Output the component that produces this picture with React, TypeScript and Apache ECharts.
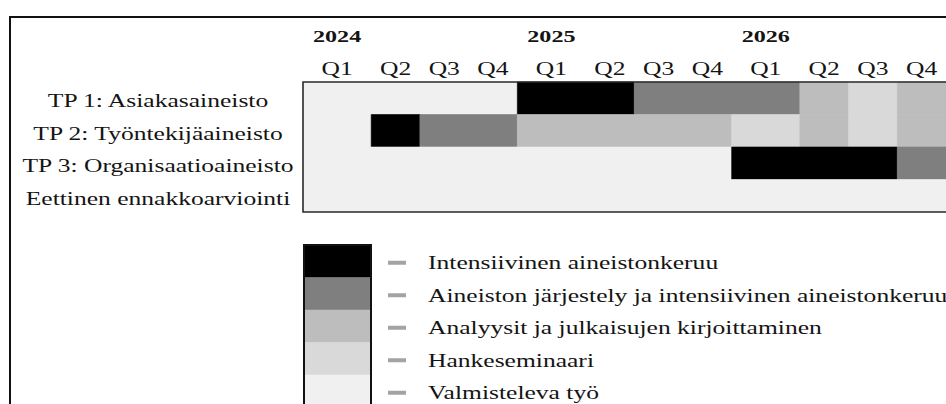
import React, { useEffect, useRef } from "react";
import * as echarts from "echarts";

// ---- data ----
const years = ["2024", "2025", "2026"];
const quarterNames = ["Q1", "Q2", "Q3", "Q4"];
const workPackages = [
  "TP 1: Asiakasaineisto",
  "TP 2: Työntekijäaineisto",
  "TP 3: Organisaatioaineisto",
  "Eettinen ennakkoarviointi",
];
const phases = [
  "Intensiivinen aineistonkeruu",
  "Aineiston järjestely ja intensiivinen aineistonkeruu",
  "Analyysit ja julkaisujen kirjoittaminen",
  "Hankeseminaari",
  "Valmisteleva työ",
];
// [first quarter index, last quarter index (inclusive), phase index]; quarter 0 = 2024 Q1
const tp1Plan = [[0, 3, 4], [4, 5, 0], [6, 8, 1], [9, 9, 2], [10, 10, 3], [11, 11, 2]];
const tp2Plan = [[0, 0, 4], [1, 1, 0], [2, 3, 1], [4, 7, 2], [8, 8, 3], [9, 9, 2], [10, 10, 3], [11, 11, 2]];
const tp3Plan = [[0, 7, 4], [8, 10, 0], [11, 11, 1]];
const ethicsPlan = [[0, 11, 4]];
const plans = [tp1Plan, tp2Plan, tp3Plan, ethicsPlan];

// ---- styles / layout ----
const phaseColors = ["#000000", "#7f7f7f", "#bdbdbd", "#d9d9d9", "#f0f0f0"];
const Q1_WEIGHT = 1.4; // first-quarter columns are drawn wider
const FONT = "'Liberation Serif', 'Times New Roman', serif";
const SX = 1.42;
const TEXT = "#141414";
const GRID_LEFT = 303;
const GRID_TOP = 82;
const GRID_W = 645;
const GRID_H = 130;

function quarterStart(q: number) {
  let s = 0;
  for (let i = 0; i < q; i++) s += i % 4 === 0 ? Q1_WEIGHT : 1;
  return s;
}
const totalUnits = quarterStart(years.length * quarterNames.length);

function txt(x: number, y: number, text: string, opts: any = {}) {
  const align = opts.align || "center";
  return {
    type: "text",
    x,
    y,
    scaleX: SX,
    z: 10,
    style: {
      text,
      x: 0,
      y: 0,
      fill: TEXT,
      font: opts.font || `18px ${FONT}`,
      align,
      textAlign: align,
      verticalAlign: "middle",
      textVerticalAlign: "middle",
    },
  };
}

export default function App() {
  const ref = useRef<HTMLDivElement>(null);
  useEffect(() => {
    const chart = echarts.init(ref.current!, null, { renderer: "svg" });

    const segData: any[] = [];
    plans.forEach((plan, row) =>
      plan.forEach(([a, b, p]) =>
        segData.push({ value: [quarterStart(a), quarterStart(b + 1), row, p] })
      )
    );
    const quarterData: any[] = [];
    years.forEach((_, yi) =>
      quarterNames.forEach((qn, qi) => {
        const i = yi * 4 + qi;
        quarterData.push({ value: [(quarterStart(i) + quarterStart(i + 1)) / 2, 0], name: qn });
      })
    );
    const yearData = years.map((y, yi) => ({
      value: [(quarterStart(yi * 4) + quarterStart(yi * 4 + 1)) / 2, 0],
      name: y,
    }));
    const rowData = workPackages.map((n, i) => ({ value: [0, i], name: n }));

    const BAND = 32.5;
    const LEG_TOP = 245;
    const legend: any[] = [];
    phases.forEach((ph, i) => {
      const y0 = LEG_TOP + i * BAND;
      legend.push({
        type: "rect",
        shape: { x: 304, y: y0, width: 67, height: BAND },
        style: { fill: phaseColors[i], stroke: phaseColors[i], lineWidth: 0.5 },
      });
      legend.push({
        type: "rect",
        shape: { x: 388, y: y0 + BAND / 2 - 0.5, width: 18, height: 4 },
        style: { fill: "#a3a3a3" },
      });
      legend.push(txt(428, y0 + BAND / 2 + 2, ph, { align: "left" }));
    });
    legend.push({
      type: "rect",
      shape: { x: 304, y: LEG_TOP, width: 67, height: BAND * phases.length },
      style: { fill: "none", stroke: "#111", lineWidth: 2 },
      z: 5,
    });

    chart.setOption({
      animation: false,
      grid: {
        left: GRID_LEFT,
        top: GRID_TOP,
        width: GRID_W,
        height: GRID_H,
        show: true,
        backgroundColor: "#f0f0f0",
        borderWidth: 0,
      },
      xAxis: { type: "value", min: 0, max: totalUnits, show: false },
      yAxis: { type: "category", data: workPackages, inverse: true, show: false },
      graphic: [
        {
          type: "rect",
          shape: { x: 10, y: 17, width: 1000, height: 500 },
          style: { fill: "none", stroke: "#111", lineWidth: 2 },
        },
        {
          type: "rect",
          shape: { x: GRID_LEFT, y: GRID_TOP, width: GRID_W, height: GRID_H },
          style: { fill: "none", stroke: "#2a2a2a", lineWidth: 1.6 },
          z: 20,
        },
        ...legend,
      ],
      series: [
        {
          type: "custom",
          data: segData,
          encode: { x: [0, 1], y: 2 },
          renderItem: (params: any, api: any) => {
            const s = api.coord([api.value(0), api.value(2)]);
            const e = api.coord([api.value(1), api.value(2)]);
            const h = api.size([0, 1])[1];
            const c = phaseColors[api.value(3)];
            return {
              type: "rect",
              shape: { x: s[0], y: s[1] - h / 2, width: e[0] - s[0], height: h },
              style: { fill: c, stroke: c, lineWidth: 0.6 },
            };
          },
        },
        {
          type: "custom",
          data: rowData,
          encode: { x: 0, y: 1 },
          renderItem: (params: any, api: any) => {
            const p = api.coord([0, api.value(1)]);
            return txt(GRID_LEFT - 145, p[1] + 3, workPackages[params.dataIndex]);
          },
        },
        {
          type: "custom",
          data: quarterData,
          encode: { x: 0, y: 1 },
          renderItem: (params: any, api: any) => {
            const p = api.coord([api.value(0), 0]);
            return txt(p[0], GRID_TOP - 13, quarterData[params.dataIndex].name);
          },
        },
        {
          type: "custom",
          data: yearData,
          encode: { x: 0, y: 1 },
          renderItem: (params: any, api: any) => {
            const p = api.coord([api.value(0), 0]);
            return txt(p[0], GRID_TOP - 46, yearData[params.dataIndex].name, {
              font: `bold 17px ${FONT}`,
            });
          },
        },
      ],
    });
    return () => chart.dispose();
  }, []);
  return (
    <div
      ref={ref}
      style={{ position: "absolute", left: 0, top: 0, width: 946, height: 404, background: "#fff" }}
    />
  );
}
